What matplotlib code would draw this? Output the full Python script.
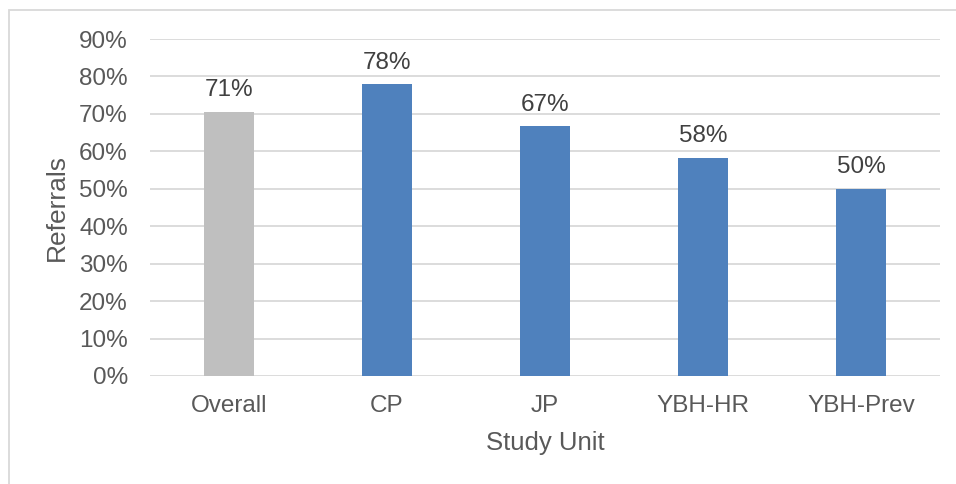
import matplotlib
matplotlib.use("Agg")
import matplotlib.pyplot as plt
from matplotlib.patches import Rectangle

plt.rcParams["font.family"] = ["Liberation Sans", "DejaVu Sans"]

categories = ["Overall", "CP", "JP", "YBH-HR", "YBH-Prev"]
referral_pct = [70.6, 78.0, 66.7, 58.3, 50.0]
bar_colors = ["#BFBFBF", "#4F81BD", "#4F81BD", "#4F81BD", "#4F81BD"]
y_ticks = [0, 10, 20, 30, 40, 50, 60, 70, 80, 90]

W, H = 956, 484
fig = plt.figure(figsize=(W / 100, H / 100), dpi=100)
ax = fig.add_axes([150 / W, 1 - 376 / H, (940 - 150) / W, (376 - 39) / H])

x = list(range(len(categories)))
ax.bar(x, referral_pct, width=0.316, color=bar_colors, zorder=3)
for xi, v in zip(x, referral_pct):
    ax.annotate(f"{v:.0f}%", (xi, v), xytext=(0, 7.5), textcoords="offset points",
                ha="center", va="bottom", fontsize=17.5, color="#404040")

ax.set_xlim(-0.5, len(categories) - 0.5)
ax.set_ylim(0, 90)
ax.set_yticks(y_ticks)
ax.set_yticklabels([f"{t}%" for t in y_ticks])
ax.set_xticks(x)
ax.set_xticklabels(categories)
ax.tick_params(axis="both", length=0, labelsize=17.5, labelcolor="#595959")
ax.tick_params(axis="y", pad=16)
ax.tick_params(axis="x", pad=14)
ax.grid(axis="y", color="#D9D9D9", linewidth=1.3, zorder=0)
for s in ax.spines.values():
    s.set_visible(False)

ax.set_xlabel("Study Unit", fontsize=18.5, color="#595959", labelpad=10)
ax.set_ylabel("Referrals", fontsize=19, color="#595959", labelpad=7)

fig.patches.append(Rectangle((9 / W, -0.1), 1.2, 1 - 10 / H + 0.1,
                             transform=fig.transFigure, fill=False,
                             edgecolor="#D9D9D9", linewidth=1.3))

fig.savefig("out.png", dpi=100)
